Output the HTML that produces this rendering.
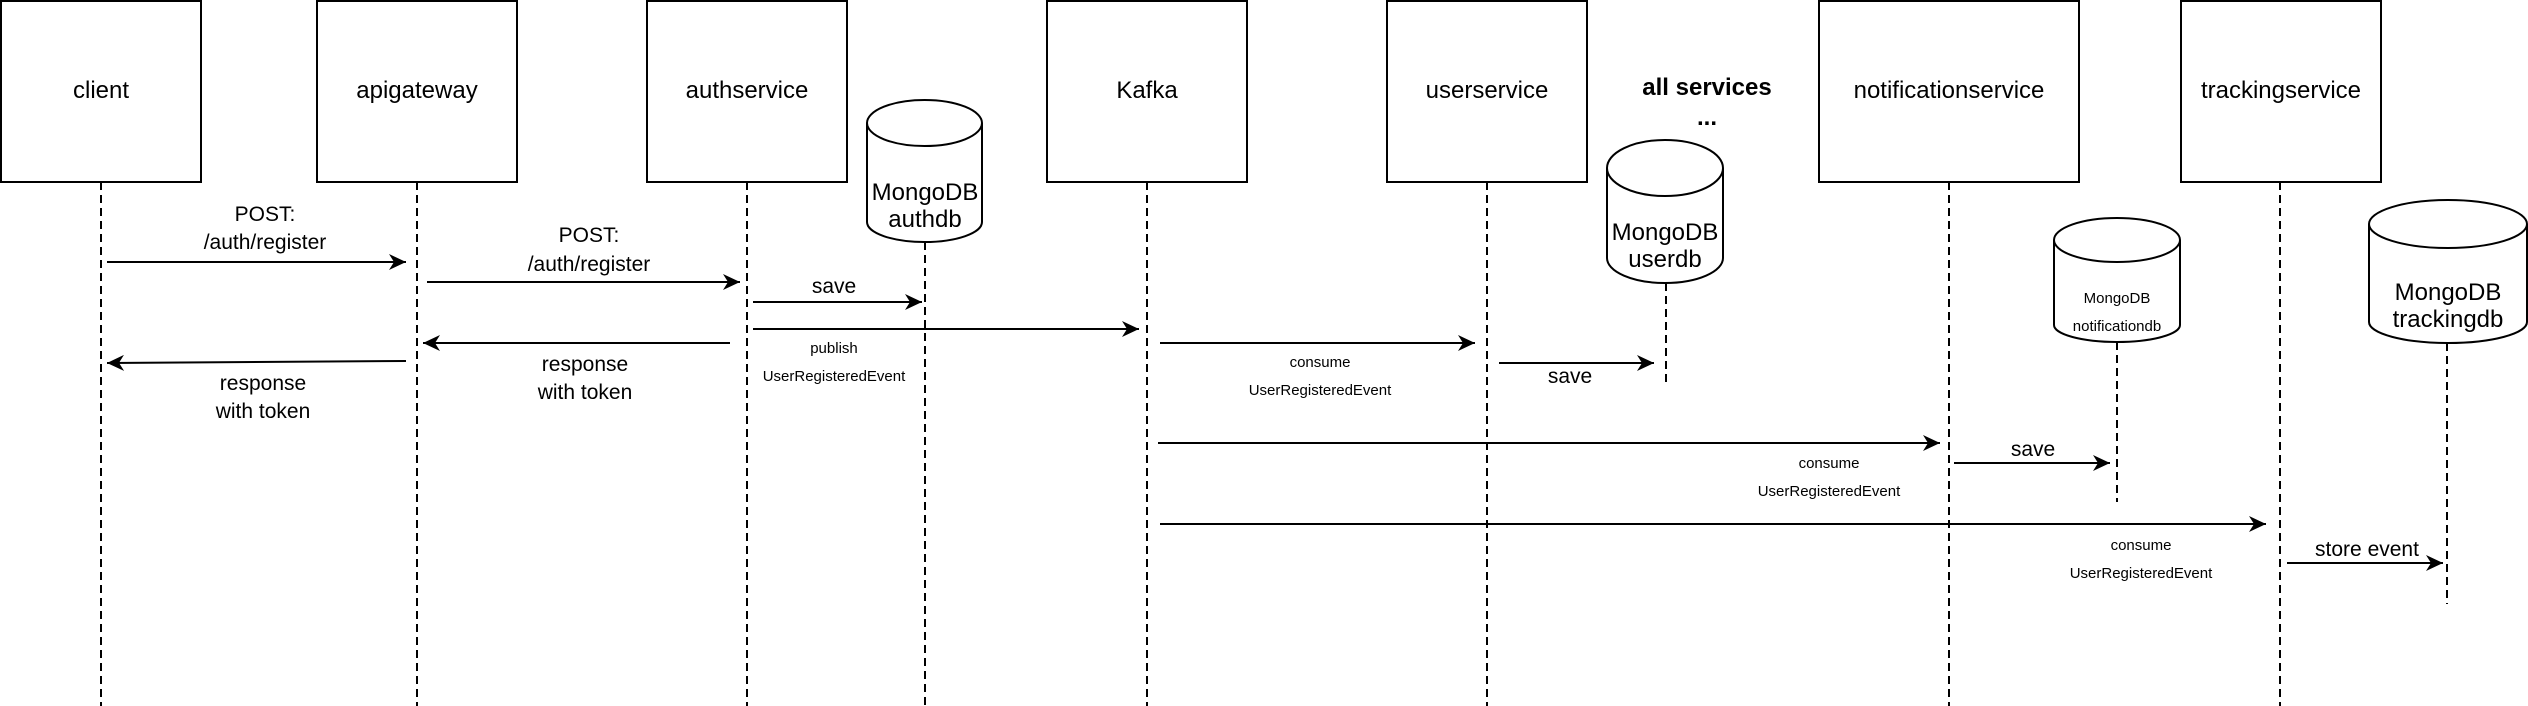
<!DOCTYPE html>
<html><head><meta charset="utf-8"><style>
html,body{margin:0;padding:0;background:#fff;}
svg{display:block;}
text{font-family:"Liberation Sans",Arial,sans-serif;fill:#000;text-anchor:middle;}
</style></head><body>
<svg width="2528" height="706" viewBox="0 0 2528 706" xmlns="http://www.w3.org/2000/svg">
<defs>
<marker id="a" markerWidth="18" markerHeight="16" refX="17" refY="8" orient="auto" markerUnits="userSpaceOnUse">
<path d="M0,0 L17,8 L0,16 L5,8 Z" fill="#000"/>
</marker>
</defs>
<g fill="none" stroke="#000" stroke-width="2">
<rect x="1" y="1" width="200" height="181"/>
<rect x="317" y="1" width="200" height="181"/>
<rect x="647" y="1" width="200" height="181"/>
<rect x="1047" y="1" width="200" height="181"/>
<rect x="1387" y="1" width="200" height="181"/>
<rect x="1819" y="1" width="260" height="181"/>
<rect x="2181" y="1" width="200" height="181"/>
</g>
<g stroke="#000" stroke-width="2" stroke-dasharray="8,5">
<line x1="101" y1="182" x2="101" y2="706"/>
<line x1="417" y1="182" x2="417" y2="706"/>
<line x1="747" y1="182" x2="747" y2="706"/>
<line x1="1147" y1="182" x2="1147" y2="706"/>
<line x1="1487" y1="182" x2="1487" y2="706"/>
<line x1="1949" y1="182" x2="1949" y2="706"/>
<line x1="2280" y1="182" x2="2280" y2="706"/>
<line x1="925" y1="242" x2="925" y2="706"/>
<line x1="1666" y1="283" x2="1666" y2="382"/>
<line x1="2117" y1="342" x2="2117" y2="502"/>
<line x1="2447" y1="343" x2="2447" y2="604"/>
</g>
<g fill="#fff" stroke="#000" stroke-width="2">
<path d="M867,123 A57.5,23 0 0 1 982,123 L982,222 A57.5,20 0 0 1 867,222 Z"/>
<path d="M867,123 A57.5,23 0 0 0 982,123" fill="none"/>
<path d="M1607,168 A58,28 0 0 1 1723,168 L1723,258 A58,25 0 0 1 1607,258 Z"/>
<path d="M1607,168 A58,28 0 0 0 1723,168" fill="none"/>
<path d="M2054,240 A63,22 0 0 1 2180,240 L2180,325 A63,17 0 0 1 2054,325 Z"/>
<path d="M2054,240 A63,22 0 0 0 2180,240" fill="none"/>
<path d="M2369,224 A79,24 0 0 1 2527,224 L2527,322 A79,21 0 0 1 2369,322 Z"/>
<path d="M2369,224 A79,24 0 0 0 2527,224" fill="none"/>
</g>
<g stroke="#000" stroke-width="2" marker-end="url(#a)">
<line x1="107" y1="262" x2="406" y2="262"/>
<line x1="427" y1="282" x2="740" y2="282"/>
<line x1="753" y1="302" x2="922" y2="302"/>
<line x1="753" y1="329" x2="1139" y2="329"/>
<line x1="730" y1="343" x2="423" y2="343"/>
<line x1="406" y1="361" x2="107" y2="363"/>
<line x1="1160" y1="343" x2="1475" y2="343"/>
<line x1="1499" y1="363" x2="1654" y2="363"/>
<line x1="1158" y1="443" x2="1940" y2="443"/>
<line x1="1954" y1="463" x2="2110" y2="463"/>
<line x1="1160" y1="524" x2="2266" y2="524"/>
<line x1="2287" y1="563" x2="2443" y2="563"/>
</g>
<g font-size="24">
<text x="101" y="98">client</text>
<text x="417" y="98">apigateway</text>
<text x="747" y="98">authservice</text>
<text x="1147" y="98">Kafka</text>
<text x="1487" y="98">userservice</text>
<text x="1949" y="98">notificationservice</text>
<text x="2281" y="98">trackingservice</text>
<text x="925" y="200">MongoDB</text>
<text x="925" y="227">authdb</text>
<text x="1665" y="240">MongoDB</text>
<text x="1665" y="267">userdb</text>
<text x="2448" y="300">MongoDB</text>
<text x="2448" y="327">trackingdb</text>
<text x="1707" y="95" font-weight="bold">all services</text>
<text x="1707" y="125" font-weight="bold">...</text>
</g>
<g font-size="21">
<text x="265" y="221">POST:</text>
<text x="265" y="249">/auth/register</text>
<text x="589" y="242">POST:</text>
<text x="589" y="271">/auth/register</text>
<text x="834" y="293">save</text>
<text x="585" y="371">response</text>
<text x="585" y="399">with token</text>
<text x="263" y="390">response</text>
<text x="263" y="418">with token</text>
<text x="1570" y="383">save</text>
<text x="2033" y="456">save</text>
<text x="2367" y="556">store event</text>
</g>
<g font-size="15">
<text x="834" y="353">publish</text>
<text x="834" y="381">UserRegisteredEvent</text>
<text x="1320" y="367">consume</text>
<text x="1320" y="395">UserRegisteredEvent</text>
<text x="1829" y="468">consume</text>
<text x="1829" y="496">UserRegisteredEvent</text>
<text x="2141" y="550">consume</text>
<text x="2141" y="578">UserRegisteredEvent</text>
<text x="2117" y="303">MongoDB</text>
<text x="2117" y="331">notificationdb</text>
</g>
</svg>
</body></html>
